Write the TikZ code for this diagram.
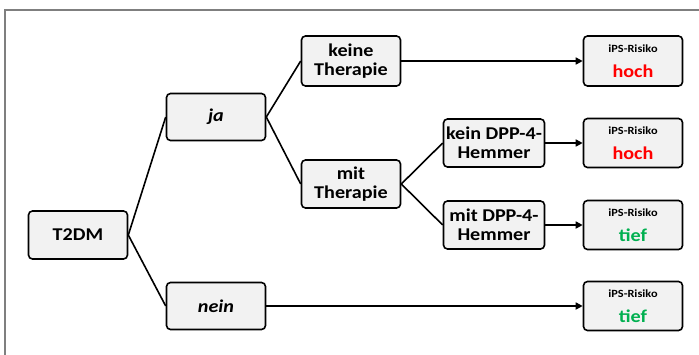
\documentclass[tikz,border=0pt]{standalone}
\usepackage{fontspec}
\setmainfont{Carlito}[FakeStretch=1.12]
\usetikzlibrary{arrows.meta}
\definecolor{boxfill}{HTML}{F2F2F2}
\definecolor{framegray}{HTML}{7F7F7F}
\definecolor{riskred}{HTML}{FF0000}
\definecolor{riskgreen}{HTML}{00B050}
\tikzset{
  box/.style={draw=black, line width=1.6pt, fill=boxfill, rounded corners=4pt,
    minimum width=99pt, minimum height=48pt, inner sep=1pt, align=center,
    font=\fontsize{18}{19}\selectfont\bfseries},
  riskbox/.style={box, minimum height=49pt},
  conn/.style={line width=1.6pt, draw=black},
  arr/.style={conn, -{Triangle[length=7pt,width=7pt]}}
}
\newcommand{\risk}[2]{{\fontsize{11}{12}\selectfont iPS-Risiko}\\[6pt]{\fontsize{18}{19}\selectfont\color{#1}#2}}
\begin{document}
\begin{tikzpicture}[x=1pt,y=-1pt]
\useasboundingbox (0,0) rectangle (699,354);
\clip (0,0) rectangle (699,354);
\draw[framegray, line width=1.5pt] (5,10) rectangle (720,380);
\node[box] (t2dm) at (78,235) {T2DM};
\node[box, minimum height=47pt] (ja) at (216,117) {\itshape ja};
\node[box, minimum height=47pt] (nein) at (216,306) {\itshape nein};
\node[box, minimum height=50pt] (keine) at (351,61) {keine\\Therapie};
\node[box] (mit) at (351,184) {mit\\Therapie};
\node[box, minimum width=101pt] (kein) at (494,143) {kein DPP-4-\\Hemmer};
\node[box, minimum width=101pt] (mitd) at (494,225) {mit DPP-4-\\Hemmer};
\node[riskbox, minimum height=50pt] (r1) at (633,61) {\risk{riskred}{hoch}};
\node[riskbox] (r2) at (633,143) {\risk{riskred}{hoch}};
\node[riskbox] (r3) at (633,225) {\risk{riskgreen}{tief}};
\node[riskbox] (r4) at (633,306) {\risk{riskgreen}{tief}};
\draw[conn] (t2dm.east) -- (ja.west);
\draw[conn] (t2dm.east) -- (nein.west);
\draw[conn] (ja.east) -- (keine.west);
\draw[conn] (ja.east) -- (mit.west);
\draw[conn] (mit.east) -- (kein.west);
\draw[conn] (mit.east) -- (mitd.west);
\draw[arr] (keine.east) -- (r1.west);
\draw[arr] (kein.east) -- (r2.west);
\draw[arr] (mitd.east) -- (r3.west);
\draw[arr] (nein.east) -- (r4.west);
\end{tikzpicture}
\end{document}
